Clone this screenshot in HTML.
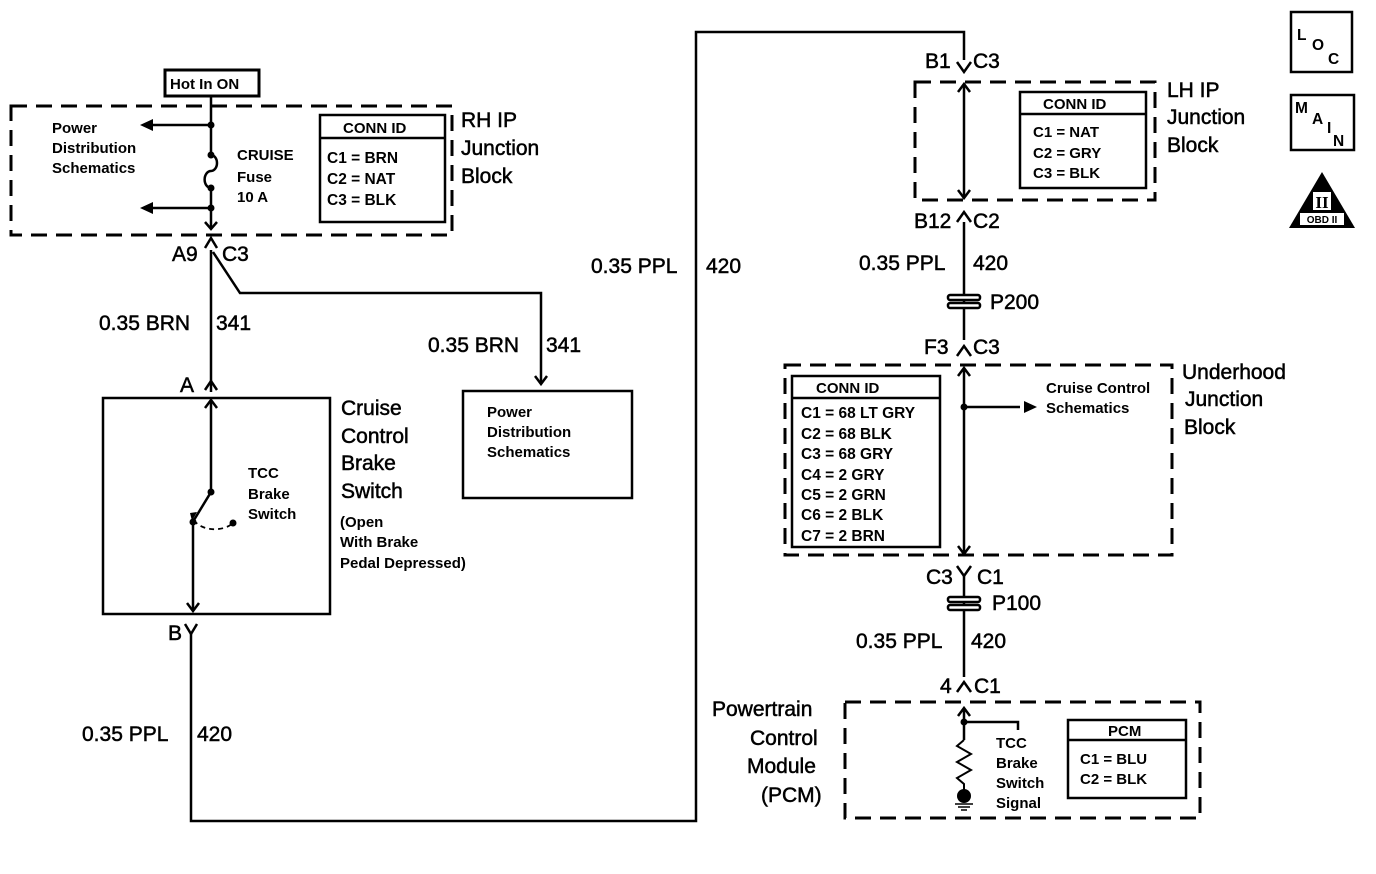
<!DOCTYPE html>
<html><head><meta charset="utf-8"><style>
html,body{margin:0;padding:0;background:#fff}
svg{display:block}
text{font-family:"Liberation Sans",Arial,sans-serif;fill:#000;font-weight:bold}
.b{font-size:21px;font-weight:normal;stroke:#000;stroke-width:0.5px}
.s{font-size:15px}
.m{font-size:15.5px}
</style></head><body>
<svg width="1376" height="874" viewBox="0 0 1376 874" xmlns="http://www.w3.org/2000/svg">
<g fill="none" stroke="#000" stroke-width="2.5">
<rect x="11" y="106" width="441" height="129" stroke-dasharray="16,9" stroke-width="3"/>
<rect x="915" y="82" width="240" height="118" stroke-dasharray="16,9" stroke-width="3"/>
<rect x="785" y="365" width="387" height="190" stroke-dasharray="16,9" stroke-width="3"/>
<rect x="845" y="702" width="355" height="116" stroke-dasharray="16,9" stroke-width="3"/>
<rect x="165" y="70" width="94" height="26" stroke-width="3"/>
<rect x="320" y="115" width="125" height="107"/>
<line x1="320" y1="138" x2="445" y2="138"/>
<rect x="1020" y="92" width="126" height="96"/>
<line x1="1020" y1="114" x2="1146" y2="114"/>
<rect x="792" y="376" width="148" height="171"/>
<line x1="792" y1="398" x2="940" y2="398"/>
<rect x="1068" y="720" width="118" height="78"/>
<line x1="1068" y1="740" x2="1186" y2="740"/>
<rect x="103" y="398" width="227" height="216"/>
<rect x="463" y="391" width="169" height="107"/>
<rect x="1291" y="12" width="61" height="60"/>
<rect x="1291" y="95" width="63" height="55"/>
<path d="M211 96 V155 M211 188 V228"/>
<path d="M211 155 a6 8 0 0 1 0 16 a6 8 0 0 0 0 17"/>
<path d="M211 125 H145 M211 208 H145"/>
<path d="M205 222 L211 229 L217 222"/>
<path d="M205 248 L211 238 L217 248" />
<path d="M211 250 V392 M213 252 L240 293 H541 V383"/>
<path d="M535 376 L541 384 L547 376"/>
<path d="M205 390 L211 381 L217 390"/>
<path d="M205 408 L211 400 L217 408"/>
<path d="M211 400 V492 L194 520"/>
<path d="M193 522 V610"/>
<path d="M187 603 L193 611 L199 603"/>
<path d="M185 624 L191 634 L197 624"/>
<path d="M191 634 V821 H696 V32 H964 V60"/>
<path d="M957 62 L964 72 L971 62"/>
<path d="M194 520 a22 14 0 0 0 39 3" stroke-dasharray="5,4" stroke-width="1.8"/>
<path d="M964 86 V197"/>
<path d="M958 92 L964 84 L970 92 M958 190 L964 198 L970 190"/>
<path d="M957 222 L964 212 L971 222"/>
<path d="M964 222 V340"/>
<path d="M957 356 L964 346 L971 356"/>
<path d="M964 368 V553 M958 376 L964 368 L970 376 M958 546 L964 554 L970 546"/>
<path d="M964 407 H1020"/>
<path d="M957 566 L964 576 L971 566"/>
<path d="M964 576 V677"/>
<path d="M957 692 L964 682 L971 692"/>
<path d="M964 708 V740 M958 716 L964 708 L970 716 M964 722 H1018 V730"/>
<path d="M964 740 l-7 6 l14 8 l-14 8 l14 8 l-14 8 l7 6 V792" stroke-width="2"/>
<path d="M955 804 H973 M958 807 H970 M961 810 H967" stroke-width="1.5"/>
</g>
<g fill="#fff" stroke="#000" stroke-width="2.5">
<rect x="948" y="295" width="32" height="5" rx="2"/><rect x="948" y="303" width="32" height="5" rx="2"/>
<rect x="948" y="597" width="32" height="5" rx="2"/><rect x="948" y="605" width="32" height="5" rx="2"/>
</g>
<g fill="#000">
<circle cx="211" cy="125" r="3.5"/><circle cx="211" cy="155" r="3.5"/><circle cx="211" cy="188" r="3.5"/><circle cx="211" cy="208" r="3.5"/>
<circle cx="211" cy="492" r="3.5"/><circle cx="193" cy="522" r="3.5"/><circle cx="233" cy="523" r="3.5"/>
<circle cx="964" cy="407" r="3.5"/><circle cx="964" cy="722" r="3.5"/><circle cx="964" cy="796" r="7"/>
<path d="M140 125 L153 119 L153 131Z M140 208 L153 202 L153 214Z"/>
<path d="M1037 407 L1024 401 L1024 413Z"/>
<path d="M190 513 L197 512 L192 521Z"/>
<path d="M1322 172 L1355 228 L1289 228Z"/>
</g>
<rect x="1300" y="213" width="44" height="12" fill="#fff"/>
<rect x="1313" y="192" width="18" height="18" fill="#fff"/>
<text x="1322" y="208" text-anchor="middle" style="font-size:17px;font-family:'Liberation Serif',serif">II</text>
<text x="1322" y="223" text-anchor="middle" style="font-size:10px">OBD II</text>
<text x="1297" y="40" class="m">L</text><text x="1312" y="50" class="m">O</text><text x="1328" y="64" class="m">C</text>
<text x="1295" y="113" class="m">M</text><text x="1312" y="124" class="m">A</text><text x="1327" y="133" class="m">I</text><text x="1333" y="146" class="m">N</text>

<text x="170" y="89" class="s">Hot In ON</text>
<text x="52" y="133" class="s">Power</text><text x="52" y="153" class="s">Distribution</text><text x="52" y="173" class="s">Schematics</text>
<text x="237" y="160" class="s">CRUISE</text><text x="237" y="182" class="s">Fuse</text><text x="237" y="202" class="s">10 A</text>
<text x="343" y="133" class="s">CONN ID</text>
<text x="327" y="163" class="m">C1 = BRN</text><text x="327" y="184" class="m">C2 = NAT</text><text x="327" y="205" class="m">C3 = BLK</text>
<text x="461" y="127" class="b">RH IP</text><text x="461" y="155" class="b">Junction</text><text x="461" y="183" class="b">Block</text>
<text x="172" y="261" class="b">A9</text><text x="222" y="261" class="b">C3</text>
<text x="99" y="330" class="b">0.35 BRN</text><text x="216" y="330" class="b">341</text>
<text x="428" y="352" class="b">0.35 BRN</text><text x="546" y="352" class="b">341</text>
<text x="180" y="392" class="b">A</text>
<text x="487" y="417" class="s">Power</text><text x="487" y="437" class="s">Distribution</text><text x="487" y="457" class="s">Schematics</text>
<text x="248" y="478" class="s">TCC</text><text x="248" y="499" class="s">Brake</text><text x="248" y="519" class="s">Switch</text>
<text x="341" y="415" class="b">Cruise</text><text x="341" y="443" class="b">Control</text><text x="341" y="470" class="b">Brake</text><text x="341" y="498" class="b">Switch</text>
<text x="340" y="527" class="s">(Open</text><text x="340" y="547" class="s">With Brake</text><text x="340" y="568" class="s">Pedal Depressed)</text>
<text x="168" y="640" class="b">B</text>
<text x="82" y="741" class="b">0.35 PPL</text><text x="197" y="741" class="b">420</text>
<text x="591" y="273" class="b">0.35 PPL</text><text x="706" y="273" class="b">420</text>
<text x="925" y="68" class="b">B1</text><text x="973" y="68" class="b">C3</text>
<text x="1043" y="109" class="s">CONN ID</text>
<text x="1033" y="137" class="s">C1 = NAT</text><text x="1033" y="158" class="s">C2 = GRY</text><text x="1033" y="178" class="s">C3 = BLK</text>
<text x="1167" y="97" class="b">LH IP</text><text x="1167" y="124" class="b">Junction</text><text x="1167" y="152" class="b">Block</text>
<text x="914" y="228" class="b">B12</text><text x="973" y="228" class="b">C2</text>
<text x="859" y="270" class="b">0.35 PPL</text><text x="973" y="270" class="b">420</text>
<text x="990" y="309" class="b">P200</text>
<text x="924" y="354" class="b">F3</text><text x="973" y="354" class="b">C3</text>
<text x="816" y="393" class="s">CONN ID</text>
<text x="801" y="418" class="m">C1 = 68 LT GRY</text><text x="801" y="439" class="m">C2 = 68 BLK</text><text x="801" y="459" class="m">C3 = 68 GRY</text>
<text x="801" y="480" class="m">C4 = 2 GRY</text><text x="801" y="500" class="m">C5 = 2 GRN</text><text x="801" y="520" class="m">C6 = 2 BLK</text><text x="801" y="541" class="m">C7 = 2 BRN</text>
<text x="1046" y="393" class="s">Cruise Control</text><text x="1046" y="413" class="s">Schematics</text>
<text x="1182" y="379" class="b">Underhood</text><text x="1185" y="406" class="b">Junction</text><text x="1184" y="434" class="b">Block</text>
<text x="926" y="584" class="b">C3</text><text x="977" y="584" class="b">C1</text>
<text x="992" y="610" class="b">P100</text>
<text x="856" y="648" class="b">0.35 PPL</text><text x="971" y="648" class="b">420</text>
<text x="940" y="693" class="b">4</text><text x="974" y="693" class="b">C1</text>
<text x="712" y="716" class="b">Powertrain</text><text x="750" y="745" class="b">Control</text><text x="747" y="773" class="b">Module</text><text x="761" y="802" class="b">(PCM)</text>
<text x="996" y="748" class="s">TCC</text><text x="996" y="768" class="s">Brake</text><text x="996" y="788" class="s">Switch</text><text x="996" y="808" class="s">Signal</text>
<text x="1108" y="736" class="s">PCM</text>
<text x="1080" y="764" class="s">C1 = BLU</text><text x="1080" y="784" class="s">C2 = BLK</text>
</svg>
</body></html>
